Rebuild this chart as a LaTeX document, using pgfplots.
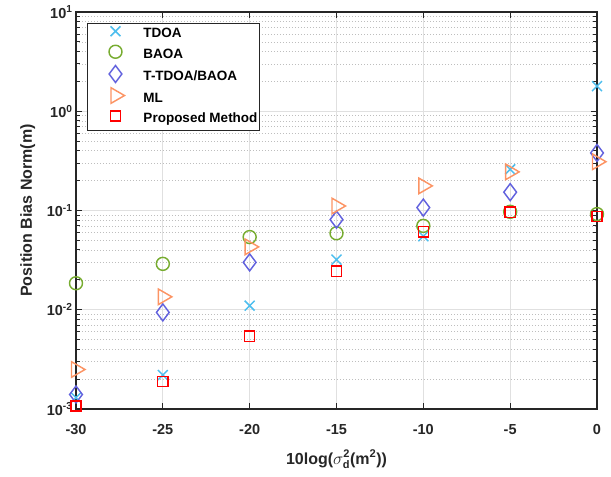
\documentclass[border=0pt]{standalone}
\usepackage{fontspec}
\setmainfont{Liberation Sans}
\usepackage{pgfplots}
\pgfplotsset{compat=1.18}

\definecolor{cTdoa}{RGB}{77,190,238}
\definecolor{cBaoa}{RGB}{119,172,48}
\definecolor{cTt}{RGB}{98,98,222}
\definecolor{cMl}{RGB}{252,148,100}
\definecolor{cProp}{RGB}{255,0,0}
\definecolor{axcol}{RGB}{38,38,38}
\definecolor{gridcol}{RGB}{224,224,224}
\definecolor{mgridcol}{RGB}{190,190,190}

\begin{document}
\begin{tikzpicture}
\begin{axis}[
  scale only axis,
  width=521pt, height=397pt,
  ymode=log,
  xmin=-30, xmax=0,
  ymin=1e-3, ymax=10,
  clip=false,
  axis line style={axcol, line width=1.2pt},
  xtick={-30,-25,-20,-15,-10,-5,0},
  xticklabels={-30,-25,-20,-15,-10,-5,0},
  ytick={1e-3,1e-2,1e-1,1,10},
  yticklabels={10\textsuperscript{-3},10\textsuperscript{-2},10\textsuperscript{-1},10\textsuperscript{0},10\textsuperscript{1}},
  tick label style={font=\fontsize{14.5}{16}\selectfont\bfseries, text=axcol},
  xticklabel style={yshift=-12pt},
  tick style={axcol, line width=1pt},
  tick align=inside,
  major tick length=6pt,
  minor tick length=4pt,
  xmajorgrids, ymajorgrids, yminorgrids,
  major grid style={gridcol, line width=0.8pt},
  minor grid style={mgridcol, line width=0.6pt, dash pattern=on 0.8pt off 2.2pt},
  xlabel={10log($\sigma^{\mbox{\fontsize{11}{12}\selectfont\bfseries 2}}_{\mbox{\fontsize{11}{12}\selectfont\bfseries d}}$(m\textsuperscript{2}))},
  ylabel={Position Bias Norm(m)},
  label style={font=\fontsize{16}{18}\selectfont\bfseries, text=axcol},
  xlabel style={at={(axis description cs:0.5,0)}, anchor=base, yshift=-55pt},
  ylabel style={at={(axis description cs:0,0.5)}, rotate=0, anchor=base, yshift=44pt},
  legend cell align=left,
  legend style={
    at={(0,1)}, anchor=north west, xshift=11pt, yshift=-11pt,
    draw=axcol, line width=1pt,
    font=\fontsize{13.5}{15}\selectfont\bfseries,
    inner sep=1pt, row sep=0pt, column sep=0pt,
    nodes={inner sep=1pt, text height=12.5pt, text depth=6pt},
  },
  legend image code/.code={%
    \path[draw=none, fill=none] (0pt,0.35em) rectangle (54pt,0.35em);
    \draw plot coordinates {(27pt,0.35em)};
  },
  every axis plot/.append style={only marks, line width=1.45pt},
]
\addplot[cTdoa, mark=x, mark size=7pt] coordinates {
  (-30,0.0013) (-25,0.0022) (-20,0.011) (-15,0.032) (-10,0.055) (-5,0.26) (0,1.79)};
\addlegendentry{TDOA}
\addplot[cBaoa, mark=o, mark size=6.5pt] coordinates {
  (-30,0.0185) (-25,0.029) (-20,0.054) (-15,0.059) (-10,0.070) (-5,0.097) (0,0.092)};
\addlegendentry{BAOA}
\addplot[cTt, mark=diamond, mark size=8.5pt] coordinates {
  (-30,0.0014) (-25,0.0094) (-20,0.030) (-15,0.081) (-10,0.107) (-5,0.153) (0,0.38)};
\addlegendentry{T-TDOA/BAOA}
\addplot[cMl, mark=triangle, mark size=9pt, mark options={rotate=-90}] coordinates {
  (-30,0.0025) (-25,0.0135) (-20,0.043) (-15,0.111) (-10,0.177) (-5,0.245) (0,0.31)};
\addlegendentry{ML}
\addplot[cProp, mark=square, mark size=5.1pt] coordinates {
  (-30,0.00107) (-25,0.0019) (-20,0.0054) (-15,0.0245) (-10,0.061) (-5,0.096) (0,0.087)};
\addlegendentry{Proposed Method}
\coordinate (SW) at (rel axis cs:0,0);
\end{axis}
\pgfresetboundingbox
\path (SW) ++(-76pt,-68pt) rectangle ++(611pt,477pt);
\end{tikzpicture}
\end{document}
